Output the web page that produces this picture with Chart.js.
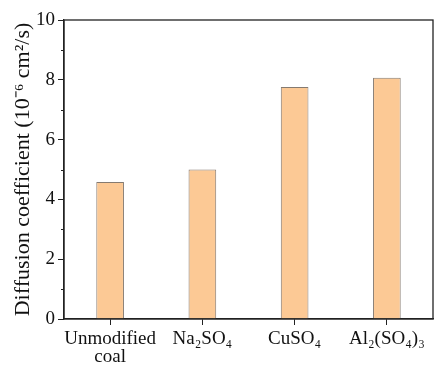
<!DOCTYPE html>
<html>
<head>
<meta charset="utf-8">
<script src="https://cdn.jsdelivr.net/npm/chart.js@4"></script>
<style>
  html, body { margin: 0; padding: 0; background: #fff; }
  #wrap { width: 436px; height: 368px; }
</style>
</head>
<body>
<div id="wrap"><canvas id="diffChart"></canvas></div>
<script>
const categories = [['Unmodified', 'coal'], 'Na\u2082SO\u2084', 'CuSO\u2084', 'Al\u2082(SO\u2084)\u2083'];
const diffusionValues = [4.58, 5.0, 7.76, 8.07];
const yTicks = [0, 2, 4, 6, 8, 10];
const yMinorTicks = [1, 3, 5, 7, 9];

const serif = "'Liberation Serif', 'Times New Roman', serif";

// 小目盛りと外枠を描く
const frameAndMinor = {
    id: 'frameAndMinor',
    afterDraw(chart) {
        const ctx = chart.ctx;
        const area = chart.chartArea;
        const y = chart.scales.y;
        ctx.save();
        ctx.strokeStyle = '#222';
        ctx.lineWidth = 1.3;
        ctx.strokeRect(area.left, area.top, area.right - area.left, area.bottom - area.top);
        ctx.lineWidth = 1;
        yMinorTicks.forEach(v => {
            const py = Math.round(y.getPixelForValue(v)) + 0.5;
            ctx.beginPath();
            ctx.moveTo(area.left - 3, py);
            ctx.lineTo(area.left, py);
            ctx.stroke();
        });
        ctx.restore();
    }
};

new Chart(document.getElementById('diffChart').getContext('2d'), {
    type: 'bar',
    data: {
        labels: categories,
        datasets: [{
            data: diffusionValues,
            backgroundColor: '#fcc995',
            borderColor: '#857a70',
            borderWidth: 1,
            barPercentage: 0.6,
            categoryPercentage: 0.5
        }]
    },
    options: {
        responsive: true,
        maintainAspectRatio: false,
        animation: false,
        layout: { padding: { top: 20, right: 3, left: 0, bottom: 0 } },
        scales: {
            x: {
                grid: { display: true, offset: false, drawOnChartArea: false, drawTicks: true, tickLength: 6, color: '#222' },
                border: { display: true, color: '#222', width: 1.3 },
                ticks: {
                    color: '#111',
                    padding: 5,
                    maxRotation: 0,
                    autoSkip: false,
                    font: { family: serif, size: 19, lineHeight: 0.95 }
                },
                afterFit: s => { s.height = 49; }
            },
            y: {
                min: 0,
                max: 10,
                afterBuildTicks: s => { s.ticks = yTicks.map(v => ({ value: v })); },
                grid: { display: true, drawOnChartArea: false, drawTicks: true, tickLength: 6, color: '#222' },
                border: { display: true, color: '#222', width: 1.3 },
                ticks: {
                    color: '#111',
                    padding: 3,
                    font: { family: serif, size: 19 }
                },
                title: {
                    display: true,
                    text: 'Diffusion coefficient (10\u207B\u2076 cm\u00B2/s)',
                    color: '#111',
                    padding: { top: 10, bottom: 0 },
                    font: { family: serif, size: 22 }
                },
                afterFit: s => { s.width = 64; }
            }
        },
        plugins: {
            legend: { display: false },
            tooltip: { enabled: false }
        }
    },
    plugins: [frameAndMinor]
});
</script>
</body>
</html>
